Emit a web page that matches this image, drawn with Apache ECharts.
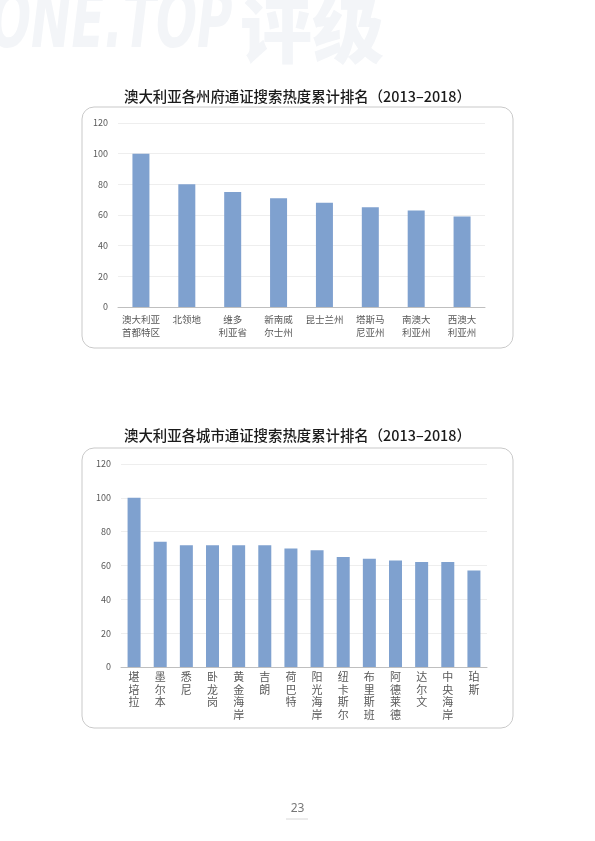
<!DOCTYPE html>
<html><head><meta charset="utf-8">
<script src="https://cdn.jsdelivr.net/npm/echarts@6/dist/echarts.min.js"></script>
<style>html,body{margin:0;padding:0;background:#fff}#c{width:595px;height:841px}</style>
</head><body><div id="c"></div>
<script>
const title1 = '澳大利亚各州府通证搜索热度累计排名（2013–2018）';
const title2 = '澳大利亚各城市通证搜索热度累计排名（2013–2018）';
const states = ['澳大利亚\n首都特区', '北领地', '维多\n利亚省', '新南威\n尔士州', '昆士兰州', '塔斯马\n尼亚州', '南澳大\n利亚州', '西澳大\n利亚州'];
const stateValues = [100, 80, 75, 71, 68, 65, 63, 59];
const cities = ['堪培拉', '墨尔本', '悉尼', '卧龙岗', '黄金海岸', '吉朗', '荷巴特', '阳光海岸', '纽卡斯尔', '布里斯班', '阿德莱德', '达尔文', '中央海岸', '珀斯'];
const cityValues = [100, 74, 72, 72, 72, 72, 70, 69, 65, 64, 63, 62, 62, 57];
const yTicks = [0, 20, 40, 60, 80, 100, 120];

const FONT = '"Noto Sans CJK SC", "Noto Sans", sans-serif';
const barColor = '#7fa1cf';
const chart = echarts.init(document.getElementById('c'), null, {renderer: 'canvas'});

function yAxis(idx) {
  return {
    gridIndex: idx, type: 'value', min: yTicks[0], max: yTicks[yTicks.length - 1], interval: 20,
    axisLine: {show: false}, axisTick: {show: false},
    axisLabel: {color: '#595959', fontSize: 9, fontFamily: FONT, margin: 10},
    splitLine: {lineStyle: {color: '#eeeeee', width: 1}}
  };
}

chart.setOption({
  animation: false,
  title: [
    {text: title1, left: 'center', top: 84, textStyle: {fontFamily: FONT, fontSize: 14.4, fontWeight: 500, color: '#1a1a1a'}},
    {text: title2, left: 'center', top: 423, textStyle: {fontFamily: FONT, fontSize: 14.4, fontWeight: 500, color: '#1a1a1a'}}
  ],
  grid: [
    {left: 118, right: 110, top: 123, bottom: 534, containLabel: false},
    {left: 121, right: 108, top: 464, bottom: 174, containLabel: false}
  ],
  xAxis: [
    {gridIndex: 0, type: 'category', data: states,
      axisLine: {lineStyle: {color: '#bfbfbf'}}, axisTick: {show: false},
      axisLabel: {interval: 0, color: '#595959', fontSize: 9.5, fontFamily: FONT, lineHeight: 13, margin: 6}},
    {gridIndex: 1, type: 'category', data: cities,
      axisLine: {lineStyle: {color: '#bfbfbf'}}, axisTick: {show: false},
      axisLabel: {interval: 0, color: '#595959', fontSize: 11, fontFamily: FONT, lineHeight: 12.5, margin: 4,
        formatter: v => v.split('').join('\n')}}
  ],
  yAxis: [yAxis(0), yAxis(1)],
  series: [
    {type: 'bar', xAxisIndex: 0, yAxisIndex: 0, data: stateValues, barWidth: 17, itemStyle: {color: barColor}},
    {type: 'bar', xAxisIndex: 1, yAxisIndex: 1, data: cityValues, barWidth: 13, itemStyle: {color: barColor}}
  ],
  graphic: [
    {type: 'text', left: -10, top: -12, z: -10, scaleX: 0.62, style: {text: 'ONE.TOP', font: 'italic 900 78px "DejaVu Sans", sans-serif', fill: '#f3f5f8'}},
    {type: 'text', left: 240, top: -6, z: -10, style: {text: '评级', font: '900 72px "Noto Sans CJK SC", sans-serif', fill: '#f3f5f8'}},
    {type: 'rect', shape: {x: 82, y: 107, width: 431, height: 241, r: 12}, z: -5,
      style: {fill: 'none', stroke: '#c9c9c9', lineWidth: 1}},
    {type: 'rect', shape: {x: 82, y: 448, width: 431, height: 280, r: 12}, z: -5,
      style: {fill: 'none', stroke: '#c9c9c9', lineWidth: 1}},
    {type: 'text', left: 'center', top: 803, style: {text: '23', font: '12px "Noto Sans", sans-serif', fill: '#777'}},
    {type: 'line', shape: {x1: 286, y1: 819, x2: 308, y2: 819}, style: {stroke: '#d8d8d8', lineWidth: 1}}
  ]
});
</script></body></html>
